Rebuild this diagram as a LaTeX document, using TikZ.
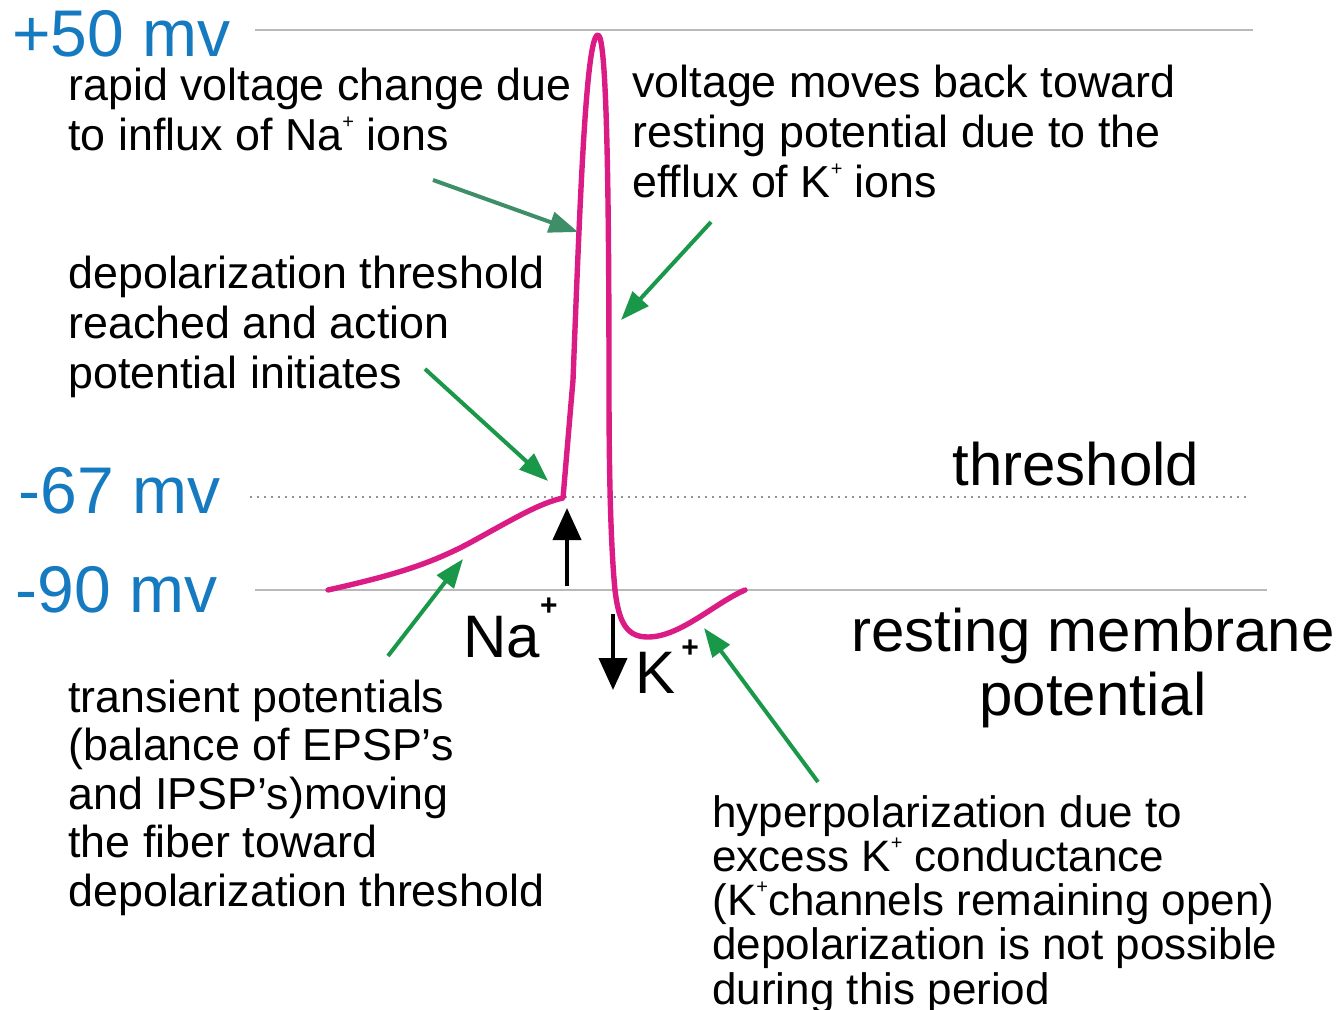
\documentclass[tikz,border=0pt]{standalone}
\usepackage{fontspec}
\setmainfont{Liberation Sans}
\usetikzlibrary{arrows.meta}

\definecolor{mvblue}{RGB}{22,122,192}
\definecolor{spike}{RGB}{218,28,132}
\definecolor{teal}{RGB}{62,142,104}
\definecolor{leaf}{RGB}{24,152,72}

\newcommand{\ionsup}{\smash{\raisebox{0.5em}{\fontsize{10}{10}\selectfont +}}}
\newcommand{\bigion}[1]{\raisebox{#1}{\fontsize{15}{15}\selectfont\bfseries +}}

\begin{document}
\begin{tikzpicture}[x=0.5pt,y=-0.5pt,>=Triangle]

% --- Global TikZ Styles for Consistency ---
\tikzset{
    level/.style={draw=gray!55, line width=0.8pt},
    thresh/.style={draw=gray!85, line width=0.9pt, dash pattern=on 0.9pt off 2.6pt},
    trace/.style={draw=spike, line width=2.7pt, line join=round, line cap=round},
    mvlabel/.style={text=mvblue, font=\fontsize{33}{33}\selectfont, anchor=base west, inner sep=0},
    note/.style={font=\fontsize{22.4}{25}\selectfont, align=left, anchor=base west, inner sep=0},
    bigtext/.style={font=\fontsize{30}{32}\selectfont, inner sep=0},
    pointer/.style={->, draw=leaf, line width=2pt, >={Triangle[length=14.5pt,width=10.5pt]}},
    ionflow/.style={->, draw=black, line width=2pt, >={Triangle[length=16pt,width=14pt]}}
}

    \useasboundingbox (0,0) rectangle (1344,1010);

    % Potential levels
    \node[mvlabel] (top) at (12,57) {+50 mv};
    \node[mvlabel] (thr) at (18,514) {-67 mv};
    \node[mvlabel] (rest) at (15,612) {-90 mv};
    \coordinate (topL) at (255,30);   \coordinate (topR) at (1253,30);
    \coordinate (thrL) at (250,497);  \coordinate (thrR) at (1250,497);
    \coordinate (restL) at (255,590); \coordinate (restR) at (1267,590);
    \draw[level] (topL) -- (topR);
    \draw[thresh] (thrL) -- (thrR);
    \draw[level] (restL) -- (restR);

    \node[bigtext, anchor=base west] (thrtext) at (952,486) {threshold};
    \node[bigtext, anchor=base, align=center] (resttext) at (1093,715) {resting membrane\\potential};

    % Action potential trace
    \draw[trace] (328,590) .. controls (390,576) and (430,565) .. (475,540)
        .. controls (515,518) and (540,503) .. (563,498)
        -- (573,380) .. controls (580,200) and (586,35) .. (598,35)
        .. controls (607,35) and (609,200) .. (609,390)
        .. controls (609,500) and (612,560) .. (615,590)
        .. controls (619,625) and (628,637) .. (648,637)
        .. controls (680,637) and (715,603) .. (745,590);

    % Ion flow
    \node[bigtext, anchor=base west] (na) at (463,657) {Na\bigion{21pt}};
    \node[bigtext, anchor=base west] (kp) at (635,693) {K\hspace{3pt}\bigion{18pt}};
    \coordinate (naFrom) at (567,586); \coordinate (naTo) at (567,508);
    \coordinate (kFrom) at (613,614);  \coordinate (kTo) at (613,690);
    \draw[ionflow] (naFrom) -- (naTo);
    \draw[ionflow] (kFrom) -- (kTo);

    % Notes
    \node[note] (influx) at (68,151) {rapid voltage change due\\to influx of Na\ionsup{} ions};
    \node[note] (efflux) at (632,198) {voltage moves back toward\\resting potential due to the\\efflux of K\ionsup{} ions};
    \node[note] (initiate) at (68,389) {depolarization threshold\\reached and action\\potential initiates};
    \node[note, font=\fontsize{22.4}{24.2}\selectfont] (transient) at (68,906) {transient potentials\\(balance of EPSP’s\\and IPSP’s)moving\\the fiber toward\\depolarization threshold};
    \node[note, font=\fontsize{22}{22.1}\selectfont] (hyper) at (712,1004) {hyperpolarization due to\\excess K\ionsup{} conductance\\(K\ionsup{}channels remaining open)\\depolarization is not possible\\during this period};

    % Pointers
    \coordinate (p1) at (433,180); \coordinate (q1) at (578,232);
    \coordinate (p2) at (711,222); \coordinate (q2) at (621,320);
    \coordinate (p3) at (425,369); \coordinate (q3) at (548,481);
    \coordinate (p4) at (388,656); \coordinate (q4) at (463,559);
    \coordinate (p5) at (818,782); \coordinate (q5) at (704,628);
    \draw[pointer, draw=teal] (p1) -- (q1);
    \draw[pointer] (p2) -- (q2);
    \draw[pointer] (p3) -- (q3);
    \draw[pointer] (p4) -- (q4);
    \draw[pointer] (p5) -- (q5);

\end{tikzpicture}
\end{document}
